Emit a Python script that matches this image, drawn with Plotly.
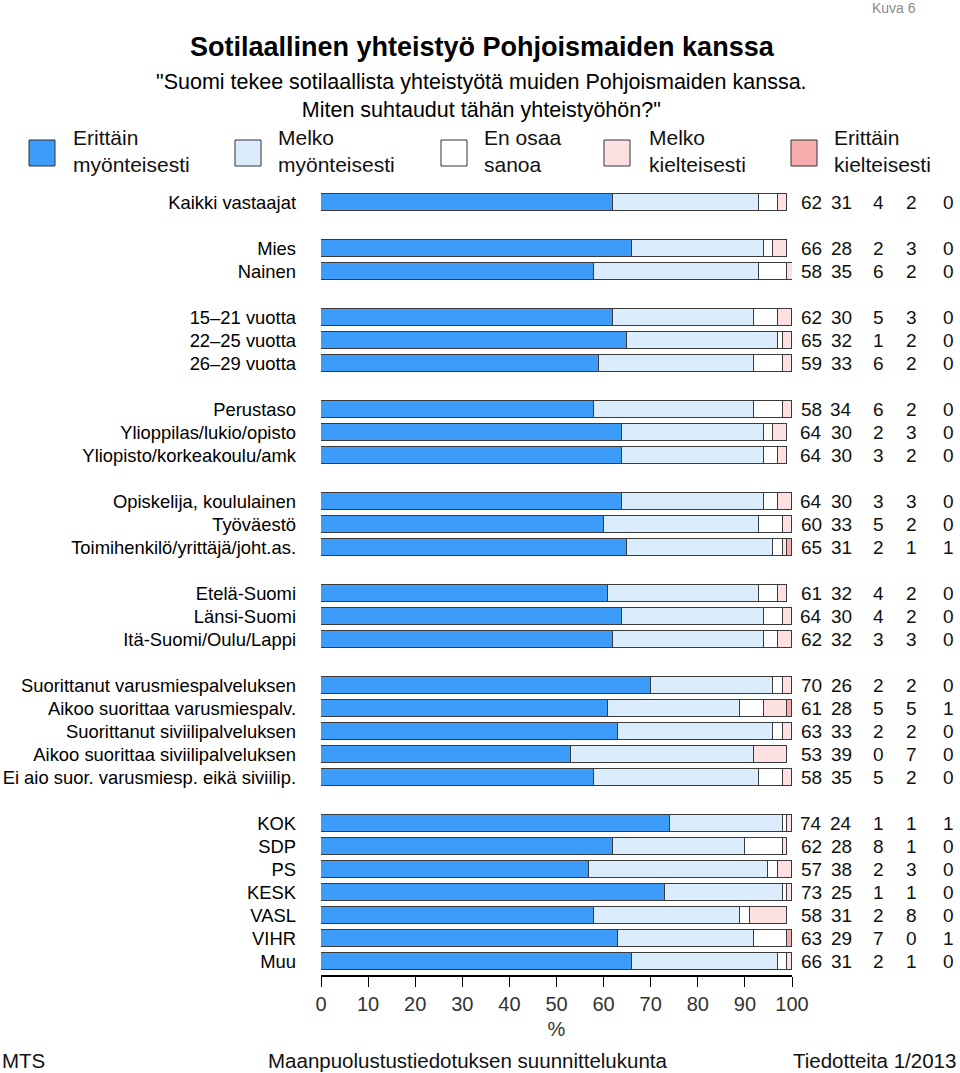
import plotly.graph_objects as go

# ---------------- data ----------------
groups = [
    ["Kaikki vastaajat"],
    ["Mies", "Nainen"],
    ["15–21 vuotta", "22–25 vuotta", "26–29 vuotta"],
    ["Perustaso", "Ylioppilas/lukio/opisto", "Yliopisto/korkeakoulu/amk"],
    ["Opiskelija, koululainen", "Työväestö", "Toimihenkilö/yrittäjä/joht.as."],
    ["Etelä-Suomi", "Länsi-Suomi", "Itä-Suomi/Oulu/Lappi"],
    ["Suorittanut varusmiespalveluksen", "Aikoo suorittaa varusmiespalv.",
     "Suorittanut siviilipalveluksen", "Aikoo suorittaa siviilipalveluksen",
     "Ei aio suor. varusmiesp. eikä siviilip."],
    ["KOK", "SDP", "PS", "KESK", "VASL", "VIHR", "Muu"],
]

erittain_myont = [62, 66, 58, 62, 65, 59, 58, 64, 64, 64, 60, 65, 61, 64, 62,
                  70, 61, 63, 53, 58, 74, 62, 57, 73, 58, 63, 66]
melko_myont = [31, 28, 35, 30, 32, 33, 34, 30, 30, 30, 33, 31, 32, 30, 32,
               26, 28, 33, 39, 35, 24, 28, 38, 25, 31, 29, 31]
en_osaa = [4, 2, 6, 5, 1, 6, 6, 2, 3, 3, 5, 2, 4, 4, 3,
           2, 5, 2, 0, 5, 1, 8, 2, 1, 2, 7, 2]
melko_kielt = [2, 3, 2, 3, 2, 2, 2, 3, 2, 3, 2, 1, 2, 2, 3,
               2, 5, 2, 7, 2, 1, 1, 3, 1, 8, 0, 1]
erittain_kielt = [0, 0, 0, 0, 0, 0, 0, 0, 0, 0, 0, 1, 0, 0, 0,
                  0, 1, 0, 0, 0, 1, 0, 0, 0, 0, 1, 0]

series_names = ["Erittäin<br>myönteisesti", "Melko<br>myönteisesti", "En osaa<br>sanoa",
                "Melko<br>kielteisesti", "Erittäin<br>kielteisesti"]
series_values = [erittain_myont, melko_myont, en_osaa, melko_kielt, erittain_kielt]
colors = ["#3d9bfa", "#dbedfc", "#ffffff", "#fde0e2", "#f7adad"]
x_ticks = [0, 10, 20, 30, 40, 50, 60, 70, 80, 90, 100]

# ---------------- layout helpers ----------------
W, H = 960, 1073
L, R = 321, 792          # plot area x in pixels
T, B = 191, 975          # plot area y in pixels
Y_TOP, Y_BOT = -0.5, 33.57

def px2x(px):
    return (px - L) / (R - L)

def py2y(py):
    return (B - py) / (B - T)

labels, slots = [], []
s = 0
for g in groups:
    for lab in g:
        labels.append(lab)
        slots.append(s)
        s += 1
    s += 1

FONT = "Liberation Sans, Arial, sans-serif"

fig = go.Figure()
for name, vals, col in zip(series_names, series_values, colors):
    fig.add_trace(go.Bar(
        y=slots, x=vals, orientation="h", name=name,
        marker=dict(color=col, line=dict(color="#3a3a3a", width=1)),
        width=0.74, showlegend=False, hoverinfo="x+name",
    ))

annotations = []
# value columns on the right
col_px = [811, 841, 878, 911, 948]
for ci, vals in enumerate(series_values):
    for yv, v in zip(slots, vals):
        annotations.append(dict(
            x=px2x(col_px[ci]), xref="paper", y=yv, yref="y",
            text=str(v), showarrow=False, xanchor="center", yanchor="middle",
            font=dict(size=19, color="#111111", family=FONT)))

# legend (custom)
box_px = [29, 235, 441, 604, 791]
text_px = [71, 276, 482, 647, 832]
shapes = []
for bx, tx, name, col in zip(box_px, text_px, series_names, colors):
    shapes.append(dict(type="rect", xref="paper", yref="paper",
                       x0=px2x(bx), x1=px2x(bx + 26), y0=py2y(140), y1=py2y(166),
                       fillcolor=col, line=dict(color="#333333", width=1)))
    annotations.append(dict(x=px2x(tx), xref="paper", y=py2y(151), yref="paper",
                            text=name, showarrow=False, xanchor="left", yanchor="middle",
                            align="left", font=dict(size=21, color="#111111", family=FONT)))

# titles
annotations.append(dict(x=px2x(482), xref="paper", y=py2y(47), yref="paper",
                        text="<b>Sotilaallinen yhteistyö Pohjoismaiden kanssa</b>",
                        showarrow=False, xanchor="center", yanchor="middle",
                        font=dict(size=27, color="#000000", family=FONT)))
annotations.append(dict(x=px2x(481), xref="paper", y=py2y(96), yref="paper",
                        text="\"Suomi tekee sotilaallista yhteistyötä muiden Pohjoismaiden kanssa.<br>Miten suhtaudut tähän yhteistyöhön?\"",
                        showarrow=False, xanchor="center", yanchor="middle", align="center",
                        font=dict(size=21.5, color="#000000", family=FONT)))
annotations.append(dict(x=px2x(918), xref="paper", y=py2y(8), yref="paper",
                        text="Kuva 6", showarrow=False, xanchor="right", yanchor="middle",
                        font=dict(size=14, color="#8a8a8a", family=FONT)))
# footer
annotations.append(dict(x=px2x(0), xref="paper", y=py2y(1060), yref="paper",
                        text="MTS", showarrow=False, xanchor="left", yanchor="middle",
                        font=dict(size=20.5, color="#111111", family=FONT)))
annotations.append(dict(x=px2x(467), xref="paper", y=py2y(1060), yref="paper",
                        text="Maanpuolustustiedotuksen suunnittelukunta", showarrow=False,
                        xanchor="center", yanchor="middle",
                        font=dict(size=20.5, color="#111111", family=FONT)))
annotations.append(dict(x=px2x(958), xref="paper", y=py2y(1060), yref="paper",
                        text="Tiedotteita 1/2013", showarrow=False, xanchor="right", yanchor="middle",
                        font=dict(size=20.5, color="#111111", family=FONT)))

fig.update_layout(
    width=W, height=H,
    margin=dict(l=L, r=W - R, t=T, b=H - B, pad=0, autoexpand=False),
    barmode="stack", bargap=0,
    plot_bgcolor="white", paper_bgcolor="white",
    font=dict(family=FONT, color="#111111"),
    annotations=annotations, shapes=shapes,
    xaxis=dict(range=[0, 100], tickvals=x_ticks, ticktext=[str(t) for t in x_ticks],
               showgrid=False, zeroline=False, showline=True, linecolor="#000000",
               linewidth=2, ticks="outside", ticklen=10, tickwidth=1, tickcolor="#000000",
               tickfont=dict(size=20, color="#333333"), automargin=False,
               title=dict(text="%", font=dict(size=20, color="#333333"), standoff=8),
               fixedrange=True),
    yaxis=dict(range=[Y_BOT, Y_TOP], tickvals=slots, ticktext=labels,
               showgrid=False, zeroline=False, showline=False, ticks="",
               ticklabelstandoff=24, tickfont=dict(size=18.4, color="#000000"),
               automargin=False, fixedrange=True),
)

fig.write_html("out.html")
